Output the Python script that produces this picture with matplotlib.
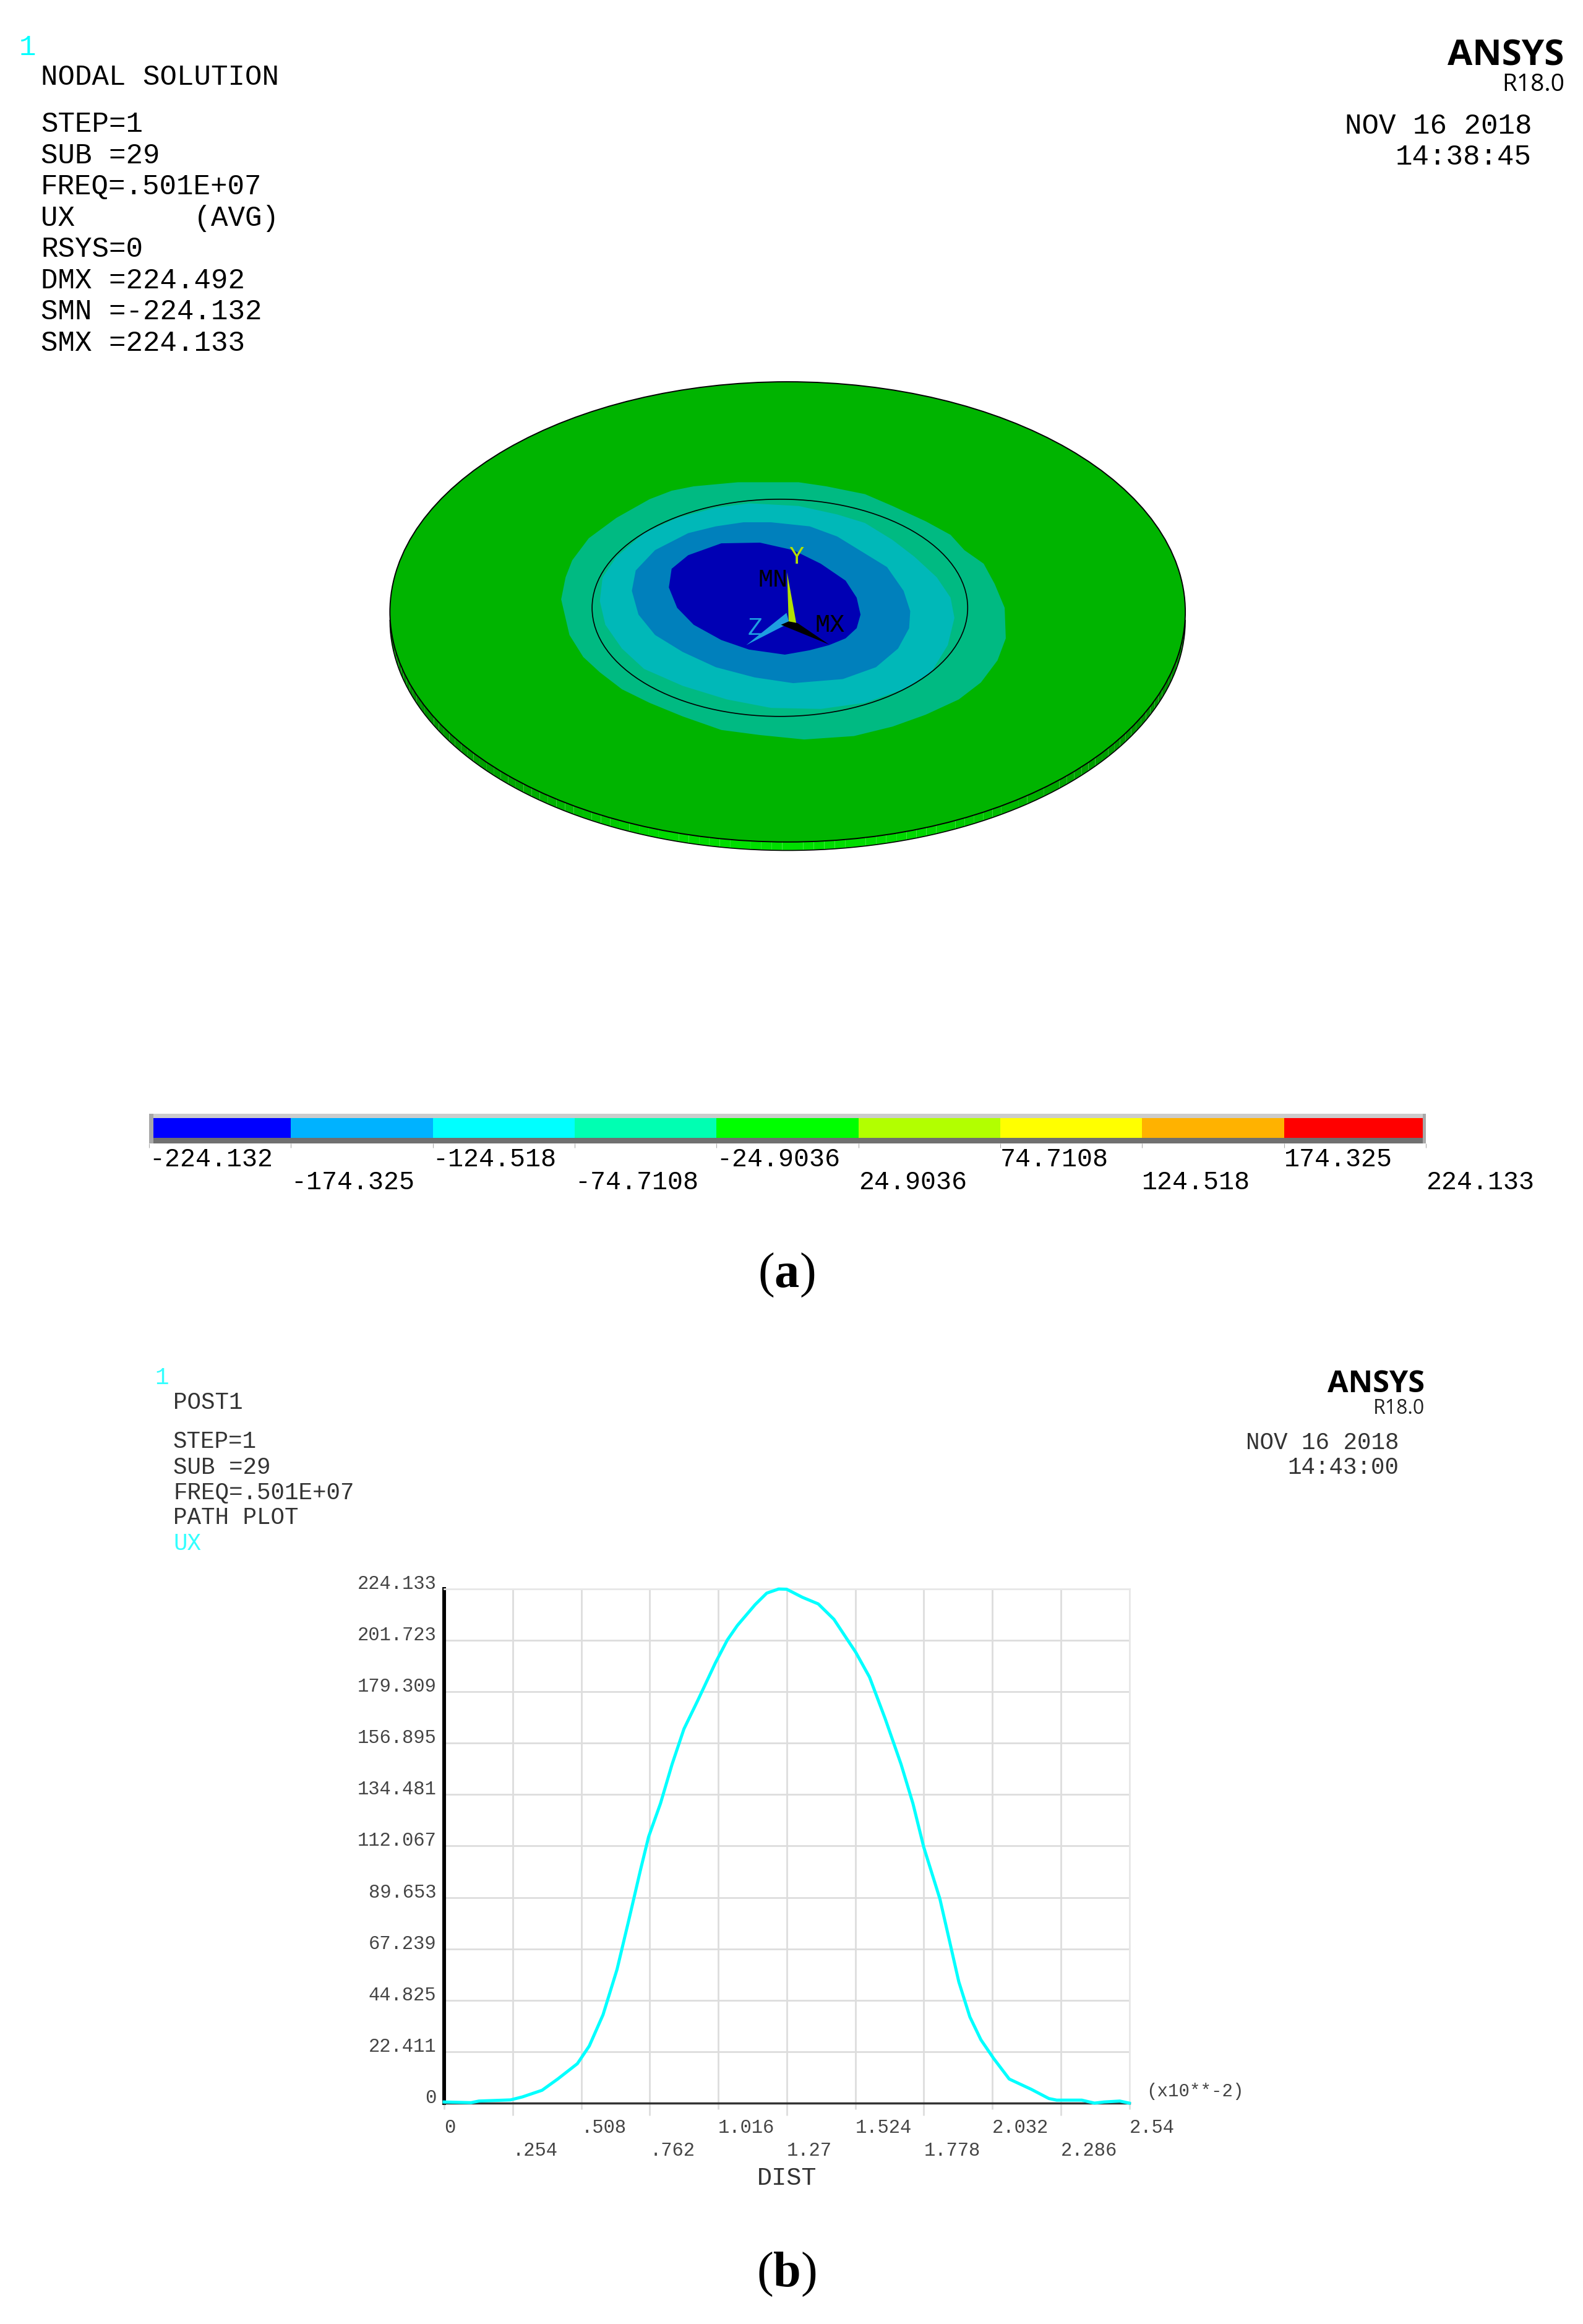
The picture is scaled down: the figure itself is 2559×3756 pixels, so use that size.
import numpy as np
import matplotlib
matplotlib.use('Agg')
import matplotlib.pyplot as plt
from matplotlib.patches import Ellipse, Polygon
from matplotlib.collections import PolyCollection
from matplotlib.colors import LinearSegmentedColormap

W, H = 2559, 3756
MONO = 'Liberation Mono'
SERIF = 'Liberation Serif'

plt.rcParams['mathtext.fontset'] = 'custom'
plt.rcParams['mathtext.rm'] = 'Liberation Serif'
plt.rcParams['mathtext.bf'] = 'Liberation Serif:bold'

# header text, top panel
header_a = ['STEP=1', 'SUB =29', 'FREQ=.501E+07', 'UX       (AVG)', 'RSYS=0',
            'DMX =224.492', 'SMN =-224.132', 'SMX =224.133']
header_a_base = [213, 264, 314, 365, 415, 466, 516, 567]

# header text, bottom panel
header_b = ['STEP=1', 'SUB =29', 'FREQ=.501E+07', 'PATH PLOT']
header_b_base = [2340, 2382, 2423, 2463]

# legend of the contour plot
levels = [-224.132, -174.325, -124.518, -74.7108, -24.9036, 24.9036, 74.7108, 124.518, 174.325, 224.133]
level_labels = ['-224.132', '-174.325', '-124.518', '-74.7108', '-24.9036', '24.9036', '74.7108', '124.518', '174.325', '224.133']
level_colors = ['#0000FF', '#00B2FF', '#00FFFF', '#00FFB2', '#00FF00', '#B2FF00', '#FFFF00', '#FFB200', '#FF0000']

# contour outlines (crop coordinates)
outer_x = [640, 720, 830, 880, 950, 1000, 1060, 1105, 1130, 1165, 1185, 1203, 1205, 1190, 1160, 1120, 1060, 1000, 930, 840, 760, 690, 620, 560, 510, 470, 440, 415, 400, 408, 420, 450, 500, 560, 600]
outer_y = [412, 400, 400, 412, 435, 470, 515, 555, 600, 640, 700, 770, 860, 925, 990, 1040, 1085, 1120, 1148, 1158, 1145, 1130, 1090, 1050, 1010, 960, 915, 850, 745, 680, 630, 565, 505, 450, 425]
cyan_x = [740, 830, 900, 950, 1000, 1040, 1080, 1105, 1112, 1100, 1070, 1020, 950, 870, 780, 700, 620, 550, 510, 480, 470, 475, 500, 550, 610, 680]
cyan_y = [462, 470, 495, 520, 570, 620, 680, 740, 800, 880, 960, 1010, 1050, 1068, 1065, 1040, 1000, 950, 890, 820, 750, 680, 620, 550, 505, 475]
mid_x = [680, 730, 780, 850, 900, 950, 990, 1020, 1032, 1030, 1010, 970, 910, 820, 750, 680, 620, 570, 540, 528, 535, 570, 630]
mid_y = [530, 518, 518, 530, 560, 610, 650, 720, 780, 830, 890, 945, 980, 992, 975, 945, 900, 850, 790, 720, 660, 600, 550]
core_x = [690, 760, 820, 870, 915, 935, 942, 935, 915, 885, 850, 805, 740, 690, 640, 610, 595, 600, 630]
core_y = [580, 578, 600, 640, 690, 740, 790, 830, 860, 880, 895, 908, 893, 865, 820, 770, 710, 655, 615]

# path plot
dist = [0, 0.0995, 0.129, 0.246, 0.290, 0.363, 0.421, 0.494, 0.538, 0.589, 0.641, 0.685, 0.728, 0.758, 0.802, 0.845, 0.889, 0.941, 1.006, 1.050, 1.087, 1.153, 1.196, 1.240, 1.270, 1.328, 1.387, 1.445, 1.526, 1.577, 1.635, 1.694, 1.738, 1.778, 1.838, 1.873, 1.908, 1.949, 1.990, 2.037, 2.095, 2.177, 2.242, 2.271, 2.364, 2.411, 2.447, 2.505, 2.54]
ux = [0.5, 0.2, 0.9, 1.4, 2.7, 5.6, 10.5, 17.2, 24.9, 38.5, 58.3, 80.0, 101.7, 116.1, 130.6, 147.7, 163.1, 175.7, 192.0, 201.9, 208.2, 217.3, 222.3, 224.1, 224.0, 220.5, 217.6, 210.9, 196.5, 185.7, 167.6, 147.7, 130.6, 111.6, 89.0, 71.0, 52.9, 37.6, 27.6, 19.5, 10.5, 6.0, 2.0, 1.3, 1.3, 0, 0.5, 0.9, 0]
y_ticks = [0, 22.411, 44.825, 67.239, 89.653, 112.067, 134.481, 156.895, 179.309, 201.723, 224.133]
y_labels = ['0', '22.411', '44.825', '67.239', '89.653', '112.067', '134.481', '156.895', '179.309', '201.723', '224.133']
x_ticks = [0, .254, .508, .762, 1.016, 1.27, 1.524, 1.778, 2.032, 2.286, 2.54]
x_labels = ['0', '.254', '.508', '.762', '1.016', '1.27', '1.524', '1.778', '2.032', '2.286', '2.54']


def px_axes(left, top, right, bottom):
    return fig.add_axes([left / W, 1 - bottom / H, (right - left) / W, (bottom - top) / H])


fig = plt.figure(figsize=(W / 100, H / 100), dpi=100, facecolor='white')

# overlay for all the loose text, in image pixels
page = fig.add_axes([0, 0, 1, 1])
page.set_xlim(0, W)
page.set_ylim(H, 0)
page.axis('off')


def mono(x, y, s, size, color='black', ha='left'):
    page.text(x, y, s, fontsize=size, family=MONO, color=color, ha=ha, va='baseline')


mono(31, 89, '1', 33, '#00FFFF')
mono(66, 137, 'NODAL SOLUTION', 33)
for s, y in zip(header_a, header_a_base):
    mono(66, y, s, 33)
page.text(2528, 106, 'ANSYS', fontsize=42, family='Open Sans', weight='bold', ha='right', va='baseline')
page.text(2529, 147, 'R18.0', fontsize=28, family='Open Sans', ha='right', va='baseline')
mono(2476, 216, 'NOV 16 2018', 33, ha='right')
mono(2476, 266, '14:38:45', 33, ha='right')
page.text(1271, 2080, r'($\mathbf{a}$)', fontsize=58, family=SERIF, ha='center', va='baseline')

mono(250, 2237, '1', 27, '#33FFFF')
mono(280, 2277, 'POST1', 27, '#333333')
for s, y in zip(header_b, header_b_base):
    mono(280, y, s, 27, '#333333')
mono(280, 2505, 'UX', 27, '#33FFFF')
page.text(2303, 2250, 'ANSYS', fontsize=35, family='Open Sans', weight='bold', ha='right', va='baseline')
page.text(2303, 2285, 'R18.0', fontsize=23, family='Open Sans', color='#222222', ha='right', va='baseline')
mono(2261, 2342, 'NOV 16 2018', 27, '#333333', ha='right')
mono(2261, 2382, '14:43:00', 27, '#333333', ha='right')
mono(1272, 3531, 'DIST', 29, '#333333', ha='center')
mono(1853, 3388, '(x10**-2)', 21, '#444444')
page.text(1271, 3695, r'($\mathbf{b}$)', fontsize=58, family=SERIF, ha='center', va='baseline')

# disc with the contour bands, axes in crop coordinates
disc = px_axes(550, 560, 1950, 1420)
disc.set_xlim(0, 1568)
disc.set_ylim(1568, 0)
disc.axis('off')

cx, cy, rx, ry, rim = 810, 782, 720, 678, 25
theta = np.linspace(0, np.pi, 120)
side_polys = []
side_vals = []
for a, b in zip(theta[:-1], theta[1:]):
    xa, xb = cx + rx * np.cos(a), cx + rx * np.cos(b)
    ya, yb = cy + ry * np.sin(a), cy + ry * np.sin(b)
    side_polys.append([(xa, ya), (xb, yb), (xb, yb + rim), (xa, ya + rim)])
    side_vals.append(abs(np.cos((a + b) / 2)))
side_cmap = LinearSegmentedColormap.from_list('side', ['#00E000', '#00D800', '#00A800', '#008C00'])
disc.add_collection(PolyCollection(side_polys, array=np.array(side_vals), cmap=side_cmap, clim=(0, 1), edgecolors='none'))
disc.plot(cx + rx * np.cos(theta), cy + rim + ry * np.sin(theta), color='black', lw=1.2)
disc.add_patch(Ellipse((cx, cy), 2 * rx, 2 * ry, fc='#00B400', ec='black', lw=1.4))

disc.add_patch(Polygon(np.column_stack([outer_x, outer_y]), fc='#00BA82', ec='none'))
disc.add_patch(Polygon(np.column_stack([cyan_x, cyan_y]), fc='#00B8B8', ec='none'))
disc.add_patch(Polygon(np.column_stack([mid_x, mid_y]), fc='#0080BC', ec='none'))
disc.add_patch(Polygon(np.column_stack([core_x, core_y]), fc='#0000B4', ec='none'))
disc.add_patch(Ellipse((796, 770), 680, 640, fc='none', ec='black', lw=1.2))

# coordinate triad
disc.add_patch(Polygon([(809, 665), (826, 818), (812, 818)], fc='#B2E000', ec='none'))
disc.add_patch(Polygon([(735, 880), (808, 785), (813, 815)], fc='#1E9FE0', ec='none'))
disc.add_patch(Polygon([(798, 820), (885, 878), (828, 815), (812, 810)], fc='black', ec='none'))
disc.text(826, 640, 'Y', fontsize=29, family=MONO, color='#B2E000', ha='center', va='baseline')
disc.text(784, 708, 'MN', fontsize=29, family=MONO, color='black', ha='center', va='baseline')
disc.text(887, 840, 'MX', fontsize=29, family=MONO, color='black', ha='center', va='baseline')
disc.text(751, 850, 'Z', fontsize=29, family=MONO, color='#1E9FE0', ha='center', va='baseline')

# legend bar
bar = px_axes(241, 1800, 2305, 1848)
bar.set_xlim(levels[0], levels[-1])
bar.set_ylim(-0.28, 1.22)
bar.axhspan(-0.28, 0, color='#707070', lw=0)
bar.axhspan(1, 1.22, color='#CCCCCC', lw=0)
bar.bar(levels[:-1], 1, width=np.diff(levels), bottom=0, align='edge', color=level_colors, lw=0)
bar.axvspan(levels[0], levels[0] + 1.5, color='#A8A8A8', lw=0)
bar.axvspan(levels[-1] - 1.0, levels[-1], color='#A8A8A8', lw=0)
bar.set_yticks([])
for sp in bar.spines.values():
    sp.set_visible(False)
bar.set_xticks(levels[::2], level_labels[::2], family=MONO, fontsize=30)
bar.set_xticks(levels[1::2], level_labels[1::2], minor=True, family=MONO, fontsize=30)
bar.tick_params(axis='x', which='both', length=5, width=0.8, color='#AAAAAA')
bar.tick_params(axis='x', which='major', pad=-1)
bar.tick_params(axis='x', which='minor', pad=26)
for lab in bar.get_xticklabels(which='both'):
    lab.set_ha('left')

# path plot
ax = px_axes(718, 2568, 1825.5, 3399)
ax.set_xlim(0, 2.54)
ax.set_ylim(0, 224.133)
ax.plot(dist, ux, color='#00FFFF', lw=3.6, clip_on=False, zorder=5)
ax.set_yticks(y_ticks, y_labels, family=MONO, fontsize=22, color='#444444', va='baseline')
ax.set_xticks(x_ticks[::2], x_labels[::2], family=MONO, fontsize=22, color='#444444')
ax.set_xticks(x_ticks[1::2], x_labels[1::2], minor=True, family=MONO, fontsize=22, color='#444444')
ax.grid(True, which='both', color='#DDDDDD', lw=2.0)
ax.set_axisbelow(True)
ax.tick_params(axis='y', length=0, pad=9)
ax.tick_params(axis='x', which='major', length=7.2, width=2, color='#DDDDDD', pad=11)
ax.tick_params(axis='x', which='minor', length=14.4, width=2, color='#DDDDDD', pad=30)
for lab in ax.get_xticklabels(which='both'):
    lab.set_ha('left')
ax.spines['left'].set_linewidth(4.3)
ax.spines['left'].set_color('black')
ax.spines['bottom'].set_linewidth(2.5)
ax.spines['bottom'].set_color('#333333')
ax.spines['top'].set_color('#E8E8E8')
ax.spines['top'].set_linewidth(2.0)
ax.spines['right'].set_color('#E8E8E8')
ax.spines['right'].set_linewidth(2.0)

fig.savefig('out.png', dpi=100)
